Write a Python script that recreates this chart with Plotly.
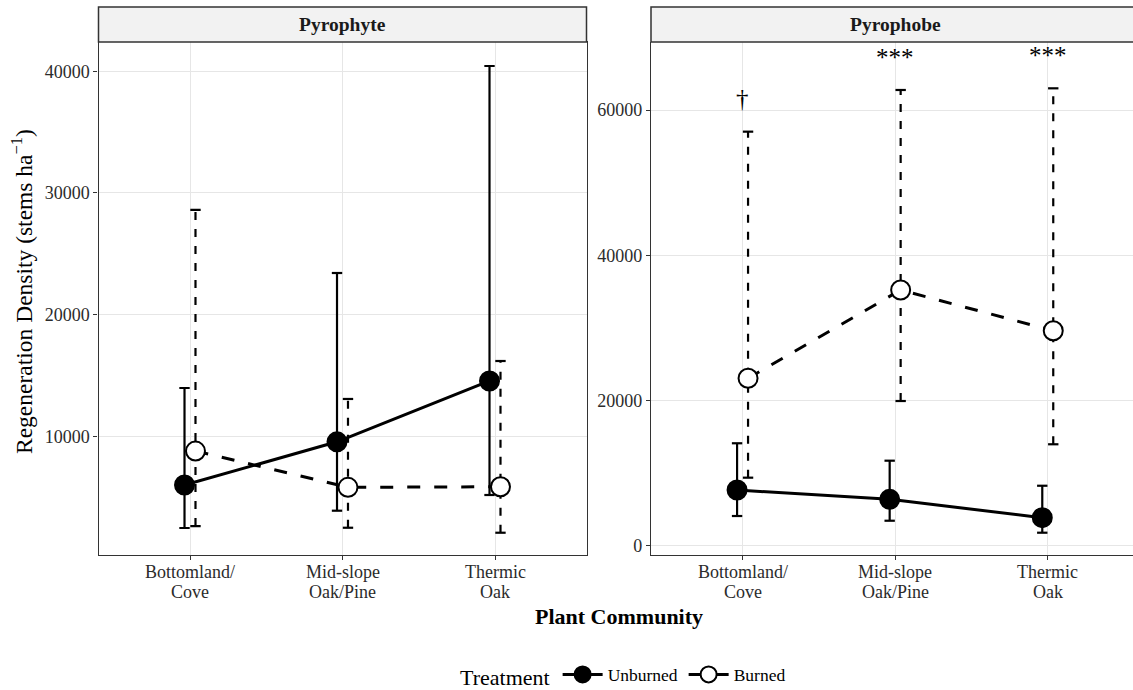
import plotly.graph_objects as go

# ---------------- data ----------------
communities = ["Bottomland/<br>Cove", "Mid-slope<br>Oak/Pine", "Thermic<br>Oak"]
cat_pos = [1, 2, 3]
panels = ["Pyrophyte", "Pyrophobe"]
treatments = ["Unburned", "Burned"]

pyrophyte_unburned_mean = [6000, 9550, 14550]
pyrophyte_unburned_lower = [2470, 3890, 5180]
pyrophyte_unburned_upper = [13970, 23420, 40430]
pyrophyte_burned_mean = [8790, 5810, 5860]
pyrophyte_burned_lower = [2630, 2490, 2080]
pyrophyte_burned_upper = [28600, 13070, 16190]

pyrophobe_unburned_mean = [7670, 6390, 3860]
pyrophobe_unburned_lower = [4090, 3440, 1790]
pyrophobe_unburned_upper = [14110, 11710, 8260]
pyrophobe_burned_mean = [23060, 35220, 29610]
pyrophobe_burned_lower = [9370, 19930, 13970]
pyrophobe_burned_upper = [57030, 62770, 63000]

pyrophobe_significance = ["†", "***", "***"]

left_ticks = [10000, 20000, 30000, 40000]
right_ticks = [0, 20000, 40000, 60000]

# ---------------- layout constants ----------------
W, H = 1133, 690
FONT = "Liberation Serif"
DODGE = 0.036
CAP = 0.034
PX_UNIT = 152.6

L0, L1 = 98.5, 586.5
R0 = 651.0
Y_TOP, Y_BOT = 42, 555

def px(xp):
    return xp / W

def py(yp):
    return 1 - yp / H

data = {
    ("Pyrophyte", "Unburned"): (pyrophyte_unburned_mean, pyrophyte_unburned_lower, pyrophyte_unburned_upper),
    ("Pyrophyte", "Burned"): (pyrophyte_burned_mean, pyrophyte_burned_lower, pyrophyte_burned_upper),
    ("Pyrophobe", "Unburned"): (pyrophobe_unburned_mean, pyrophobe_unburned_lower, pyrophobe_unburned_upper),
    ("Pyrophobe", "Burned"): (pyrophobe_burned_mean, pyrophobe_burned_lower, pyrophobe_burned_upper),
}

style = {
    "Unburned": dict(shift=-DODGE, dash="solid", ebdash="solid", fill="black"),
    "Burned": dict(shift=DODGE, dash="13px,14px", ebdash="8px,9px", fill="white"),
}

fig = go.Figure()

for pi, panel in enumerate(panels):
    xa = "x" if pi == 0 else "x2"
    ya = "y" if pi == 0 else "y2"
    # error bars
    for tr in treatments:
        mean, lo, hi = data[(panel, tr)]
        st = style[tr]
        xs = [c + st["shift"] for c in cat_pos]
        vx, vy, cx, cy = [], [], [], []
        for x, l, h in zip(xs, lo, hi):
            vx += [x, x, None]
            vy += [l, h, None]
            cx += [x - CAP, x + CAP, None, x - CAP, x + CAP, None]
            cy += [h, h, None, l, l, None]
        fig.add_trace(go.Scatter(x=vx, y=vy, mode="lines", xaxis=xa, yaxis=ya,
                                 line=dict(color="black", width=2.2, dash=st["ebdash"]),
                                 showlegend=False, hoverinfo="skip"))
        fig.add_trace(go.Scatter(x=cx, y=cy, mode="lines", xaxis=xa, yaxis=ya,
                                 line=dict(color="black", width=2.2),
                                 showlegend=False, hoverinfo="skip"))
    # lines + points
    for tr in treatments:
        mean, lo, hi = data[(panel, tr)]
        st = style[tr]
        xs = [c + st["shift"] for c in cat_pos]
        fig.add_trace(go.Scatter(
            x=xs, y=mean, mode="lines+markers", xaxis=xa, yaxis=ya,
            name=tr, legendgroup=tr, showlegend=(pi == 0),
            line=dict(color="black", width=3, dash=st["dash"]),
            marker=dict(size=19, color=st["fill"], line=dict(color="black", width=2)),
        ))
    # category labels (drawn line by line for tighter line spacing)
    for c, lab in zip(cat_pos, communities):
        for k, part in enumerate(lab.split("<br>")):
            fig.add_annotation(x=c, y=py(572 + 19.5 * k), xref=xa, yref="paper",
                               text=part, showarrow=False, xanchor="center", yanchor="middle",
                               font=dict(family=FONT, size=18, color="#2B2B2B"))

# significance labels (Pyrophobe panel, above burned upper bars)
_, _, bhi = data[("Pyrophobe", "Burned")]
for c, h, s in zip(cat_pos, bhi, pyrophobe_significance):
    fig.add_annotation(x=c, y=h + 2400, xref="x2", yref="y2", text=s, showarrow=False,
                       xanchor="center", yanchor="bottom",
                       font=dict(family=FONT, size=25, color="black"))

axis_common = dict(showline=True, linecolor="#333333", linewidth=1.3, automargin=False,
                   ticks="outside", ticklen=4, tickwidth=1.2, tickcolor="#333333",
                   showgrid=True, gridcolor="#E6E6E6", gridwidth=1, zeroline=False,
                   tickfont=dict(family=FONT, size=18, color="#2B2B2B"))

fig.update_layout(
    width=W, height=H, margin=dict(l=0, r=0, t=0, b=0, autoexpand=False),
    paper_bgcolor="white", plot_bgcolor="white",
    font=dict(family=FONT, color="black"),
    xaxis=dict(domain=[px(L0), px(L1)], range=[0.4, 3.6], tickvals=cat_pos,
               showticklabels=False, anchor="y", mirror=True, **axis_common),
    xaxis2=dict(domain=[px(R0), 1.0], range=[0.4, 0.4 + (W - R0) / PX_UNIT], tickvals=cat_pos,
                showticklabels=False, anchor="y2", mirror=False, **axis_common),
    yaxis=dict(domain=[py(Y_BOT), py(Y_TOP)], range=[250, 42400], tickvals=left_ticks,
               tickformat="d", anchor="x", mirror=True, **axis_common),
    yaxis2=dict(domain=[py(Y_BOT), py(Y_TOP)], range=[-1280, 69380], tickvals=right_ticks,
                tickformat="d", anchor="x2", mirror=False, **axis_common),
    legend=dict(orientation="h", x=px(634), xanchor="center", y=py(676), yanchor="middle",
                entrywidth=71, itemwidth=40,
                title=dict(text="Treatment", font=dict(family=FONT, size=22, color="black")),
                font=dict(family=FONT, size=17.5, color="black"), bgcolor="rgba(0,0,0,0)"),
)

# strips
for x0, x1, label in [(L0, L1, panels[0]), (R0, W + 10, panels[1])]:
    fig.add_shape(type="rect", xref="paper", yref="paper", x0=px(x0), x1=px(x1),
                  y0=py(Y_TOP), y1=py(7), fillcolor="#F2F2F2",
                  line=dict(color="#333333", width=1.5), layer="above")
cx_right = (R0 + R0 + 3.2 * PX_UNIT) / 2
fig.add_annotation(x=px((L0 + L1) / 2), y=py(24.5), xref="paper", yref="paper",
                   xanchor="center", yanchor="middle",
                   text="<b>" + panels[0] + "</b>", showarrow=False,
                   font=dict(family=FONT, size=19.5, color="#1A1A1A"))
fig.add_annotation(x=px(cx_right), y=py(24.5), xref="paper", yref="paper",
                   xanchor="center", yanchor="middle",
                   text="<b>" + panels[1] + "</b>", showarrow=False,
                   font=dict(family=FONT, size=19.5, color="#1A1A1A"))

# axis titles
fig.add_annotation(x=px(22), y=py(292), xref="paper", yref="paper", textangle=-90,
                   xanchor="center", yanchor="middle",
                   text="Regeneration Density (stems ha<sup>−1</sup>)", showarrow=False,
                   font=dict(family=FONT, size=23.5, color="black"))
fig.add_annotation(x=px(619), y=py(616), xref="paper", yref="paper",
                   xanchor="center", yanchor="middle",
                   text="<b>Plant Community</b>", showarrow=False,
                   font=dict(family=FONT, size=22, color="black"))

fig.write_html("out.html")
